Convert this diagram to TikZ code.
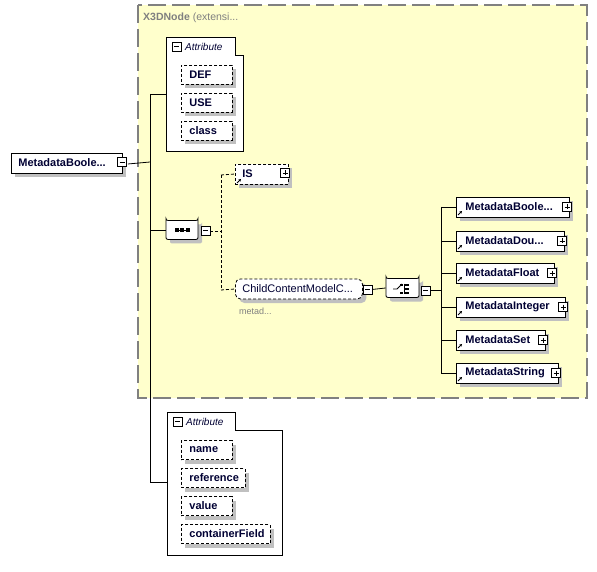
\documentclass[tikz,border=0pt]{standalone}
\usepackage{fontspec}
\setmainfont{Liberation Sans}
\usetikzlibrary{shapes.misc,shadows,arrows.meta}
\definecolor{ylw}{HTML}{FFFFCC}
\definecolor{navy}{HTML}{000033}
\definecolor{shd}{HTML}{C0C0C0}
\definecolor{frm}{HTML}{808080}
\def\tdots{...}
\tikzset{
  shad/.style={drop shadow={shadow xshift=4pt,shadow yshift=-4pt,fill=shd,opacity=1}},
  elem/.style={draw=black,line width=0.8pt,fill=white,shad,anchor=west,minimum height=20pt,inner ysep=0pt,inner xsep=7pt,
     font=\fontsize{11}{13}\selectfont\bfseries,text=navy},
  dsh/.style={dash pattern=on 3pt off 2pt},
  attr/.style={elem,dsh,inner xsep=8pt},
  minusbox/.pic={\draw[fill=white,solid,line width=0.8pt] (-4.5,-4.5) rectangle (4.5,4.5); \draw[solid,line width=0.8pt] (-2.5,0)--(2.5,0);},
  plusbox/.pic={\draw[fill=white,solid,line width=0.8pt] (-4.5,-4.5) rectangle (4.5,4.5); \draw[solid,line width=0.8pt] (-2.5,0)--(2.5,0) (0,-2.5)--(0,2.5);},
  refarrow/.pic={\draw[-{Stealth[length=2.6pt,width=2.8pt]},line width=1pt,solid] (0,0)--(4,-4);},
  conn/.style={draw=black,line width=0.8pt},
  dconn/.style={conn,dsh},
  hdr/.style={font=\fontsize{10}{12}\selectfont\itshape,text=navy,anchor=west,inner sep=0pt},
  compo/.style={chamfered rectangle,chamfered rectangle xsep=6pt,rounded corners=2pt,draw,fill=white,shad,inner sep=0pt,line width=0.8pt},
}
\begin{document}
\begin{tikzpicture}[x=1pt,y=-1pt]
\useasboundingbox (0,0) rectangle (597,572);
% yellow extension frame
\draw[fill=ylw,draw=frm,line width=1.3pt,dash pattern=on 18pt off 6pt] (138,5) rectangle (587,398);
\node[anchor=west,inner sep=0pt,text=frm,font=\fontsize{10.5}{12}\selectfont] (ext) at (143,18) {\textbf{X3DNode} (extensi...};

% root
\node[elem,minimum width=111pt,text width=97pt] (root) at (11,163) {MetadataBoole...};
\pic at (122,162) {minusbox};
\coordinate (tr1) at (150,94);
\coordinate (tr2) at (150,482);
\coordinate (trs) at (150,230);
\coordinate (trr) at (150,162);
\draw[conn] ([xshift=5pt,yshift=-1pt]root.east) -- (trr);
\draw[conn] (tr1) -- (tr2);

% attribute group 1
\draw[conn,fill=white] (166,37) -- (235,37) -- (235,55) -- (243,55) -- (243,151) -- (166,151) -- cycle;
\coordinate (ag1) at (166,94);
\draw[conn] (tr1) -- (ag1);
\pic at (176.5,46.5) {minusbox};
\node[hdr] (ah1) at (185,47) {Attribute};
\node[attr,minimum width=51pt,text width=35pt,minimum height=19pt] (def) at (181,74.5) {DEF};
\node[attr,minimum width=51pt,text width=35pt,minimum height=19pt] (use) at (181,102.5) {USE};
\node[attr,minimum width=51pt,text width=35pt,minimum height=19pt] (cls) at (181,130.5) {class};

% sequence
\node[compo,minimum width=32pt,minimum height=19pt] (seq) at (182,230) {};
\draw[line width=0.9pt] (175,230) -- (189,230);
\foreach \xx in {176.5,182,187.5} \fill (\xx-2,228) rectangle (\xx+2,232);
\pic at (205.5,230.5) {minusbox};
\draw[conn] (trs) -- (seq.west);

% sequence branches
\coordinate (sq1) at (210,231);
\coordinate (sqv1) at (221,175);
\coordinate (sqv2) at (221,290);
\draw[dconn] (sq1) -- (221,231);
\draw[dconn] (sqv1) -- (sqv2);

% IS
\node[elem,dsh,minimum width=53pt,text width=39pt,minimum height=20pt] (is) at (235,174) {IS};
\pic at (285,173) {plusbox};
\pic at (237,183) {refarrow};
\draw[dconn] (sqv1) -- (is.west);

% ChildContentModel
\node[elem,dsh,rounded corners=5pt,minimum width=127pt,text width=113pt,minimum height=20pt,font=\fontsize{11}{13}\selectfont] (ccm) at (235,289) {ChildContentModelC...};
\pic at (367.5,289.5) {minusbox};
\node[anchor=west,inner sep=0pt,text=frm,font=\fontsize{9}{10}\selectfont] (metad) at (239,311) {metad...};
\draw[dconn] (sqv2) -- (ccm.west);

% choice
\node[compo,minimum width=33pt,minimum height=19pt] (cho) at (402.5,288) {};
\draw[line width=0.9pt] (393,289) -- (397,289) -- (402,284);
\draw[line width=0.9pt] (404,283.5) -- (404,294);
\foreach \yy in {284.5,288.5,292.5} \fill (405,\yy-1) rectangle (409,\yy+1);
\foreach \yy in {284.5,292.5} \fill (400,\yy-1) rectangle (403,\yy+1);
\pic at (425.5,290.5) {minusbox};
\draw[conn] (372,289.5) -- (cho.west);
\coordinate (chv) at (441,290);
\draw[conn] (430,290) -- (chv);
\coordinate (chtop) at (441,207);
\coordinate (chbot) at (441,373);
\draw[conn] (chtop) -- (chbot);

% choice children
\foreach \nm/\txt/\yy/\w in {c1/MetadataBoole\tdots/207/112, c2/MetadataDou\tdots/241/107, c3/MetadataFloat/273/97, c4/MetadataInteger/307/108, c5/MetadataSet/340/88, c6/MetadataString/373/101}{
  \pgfmathsetmacro\tw{\w-17}
  \node[elem,minimum width=\w pt,text width=\tw pt,inner xsep=9pt] (\nm) at (456,\yy) {\txt};
  \pic at (456+\w-1,\yy) {plusbox};
  \pic at (458,\yy+8) {refarrow};
  \draw[conn] (441,\yy) -- (\nm.west);
}

% attribute group 2
\draw[conn,fill=white] (167,412) -- (235,412) -- (235,430) -- (282,430) -- (282,555) -- (167,555) -- cycle;
\coordinate (ag2) at (167,482);
\draw[conn] (tr2) -- (ag2);
\pic at (177.5,421.5) {minusbox};
\node[hdr] (ah2) at (186,422) {Attribute};
\node[attr,minimum width=51pt,text width=35pt,minimum height=19pt] (nam) at (181,450) {name};
\node[attr,minimum width=64pt,text width=48pt,minimum height=19pt] (ref) at (181,478) {reference};
\node[attr,minimum width=51pt,text width=35pt,minimum height=19pt] (val) at (181,506) {value};
\node[attr,minimum width=89pt,text width=73pt,minimum height=19pt] (cfd) at (181,534) {containerField};
\end{tikzpicture}
\end{document}
